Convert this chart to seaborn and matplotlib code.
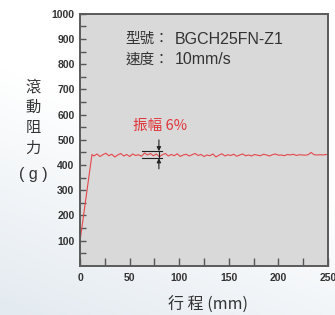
import matplotlib
matplotlib.use("Agg")
import matplotlib.pyplot as plt
import numpy as np
import pandas as pd
import seaborn as sns

# ---- data ----
stroke_mm = [0, 12, 14, 17, 20, 23, 26, 29, 32, 35, 38, 41, 44, 47, 50, 53, 56, 59, 62, 65,
             68, 71, 74, 77, 80, 83, 86, 89, 92, 95, 98, 101, 104, 107, 110, 113, 116, 119,
             122, 125, 128, 131, 134, 137, 140, 143, 146, 149, 152, 155, 158, 161, 164, 167,
             170, 173, 176, 179, 182, 185, 188, 191, 194, 197, 200, 203, 206, 209, 212, 215,
             218, 221, 224, 227, 230, 233, 236, 239, 242, 245, 248, 250]
resistance_g = [100, 442, 436, 444, 434, 441, 447, 437, 443, 432, 440, 446, 436, 442, 434, 444,
                438, 441, 435, 448, 440, 446, 437, 444, 433, 441, 446, 436, 442, 437, 445, 434,
                440, 443, 436, 441, 446, 438, 442, 434, 440, 437, 444, 432, 439, 445, 436, 441,
                438, 443, 435, 440, 444, 437, 440, 436, 442, 439, 437, 443, 440, 436, 441, 444,
                439, 440, 437, 442, 440, 443, 438, 441, 440, 439, 441, 450, 441, 440, 441, 440,
                442, 441]
x_ticks = [0, 50, 100, 150, 200, 250]
y_ticks = [100, 200, 300, 400, 500, 600, 700, 800, 900, 1000]
model_label = "型號："
model_value = "BGCH25FN-Z1"
speed_label = "速度："
speed_value = "10mm/s"
amp_text = "振幅 6%"
amp_x = 79.5
amp_hi = 455
amp_lo = 427

n = min(len(stroke_mm), len(resistance_g))
df = pd.DataFrame({"stroke": stroke_mm[:n], "res": resistance_g[:n]})

fig = plt.figure(figsize=(3.35, 3.15), dpi=100)
# subtle background gradient
bg = fig.add_axes([0, 0, 1, 1], zorder=-10)
gy, gx = np.mgrid[0:1:100j, 0:1:100j]
grad = np.clip((gy * 0.7 + (1 - gx) * 0.3) - 0.45, 0, 1) / 0.55
bg.imshow(grad, cmap=matplotlib.colors.LinearSegmentedColormap.from_list("g", ["#ffffff", "#e3eaf0"]),
          extent=[0, 1, 0, 1], aspect="auto", origin="upper")
bg.axis("off")

ax = fig.add_axes([0.239, 0.156, 0.74, 0.8])
ax.set_facecolor("#d9d9d9")
sns.lineplot(data=df, x="stroke", y="res", ax=ax, color="#e5474b", linewidth=0.8)

ax.set_xlim(0, 250)
ax.set_ylim(0, 1000)
ax.set_xticks(x_ticks)
ax.set_yticks(y_ticks)
ax.set_xticks(np.arange(0, 251, 25), minor=True)
ax.set_yticks(np.arange(50, 1000, 50), minor=True)
ax.set_xticklabels([str(v) for v in x_ticks], fontweight="bold", fontsize=7.5, color="#333333",
                   family="Liberation Sans")
ax.set_yticklabels([str(v) for v in y_ticks], fontweight="bold", fontsize=7.5, color="#333333",
                   family="Liberation Sans")
ax.tick_params(axis="x", which="both", direction="in", length=6, width=1, color="#555555", pad=5)
ax.tick_params(axis="y", which="both", direction="in", length=4.5, width=1, color="#555555", pad=4)
for s in ax.spines.values():
    s.set_color("#5a5a5a")
    s.set_linewidth(1.4)
ax.set_xlabel("")
ax.set_ylabel("")

ax.text(45.4, 900, model_label, fontsize=10.5, color="#333333", family=["Noto Sans CJK TC"],
        va="center", ha="left")
ax.text(95.8, 900, model_value, fontsize=11.5, color="#333333", family=["Liberation Sans"],
        va="center", ha="left")
ax.text(45.4, 820, speed_label, fontsize=10.5, color="#333333", family=["Noto Sans CJK TC"],
        va="center", ha="left")
ax.text(95.8, 820, speed_value, fontsize=11.5, color="#333333", family=["Liberation Sans"],
        va="center", ha="left")
ax.text(53, 555, amp_text, fontsize=10.5, color="#e0353a", family=["Noto Sans CJK TC", "DejaVu Sans"],
        va="center", ha="left")

# amplitude marker
ax.plot([62.5, 83], [amp_hi, amp_hi], color="#222222", lw=0.8)
ax.plot([62.5, 83], [amp_lo, amp_lo], color="#222222", lw=0.8)
ax.plot([amp_x, amp_x], [amp_lo, amp_hi], color="#222222", lw=0.8)
ax.annotate("", xy=(amp_x, amp_hi), xytext=(amp_x, 500),
            arrowprops=dict(arrowstyle="-|>", color="#222222", lw=0.8, mutation_scale=6,
                            shrinkA=0, shrinkB=0))
ax.annotate("", xy=(amp_x, amp_lo), xytext=(amp_x, 385),
            arrowprops=dict(arrowstyle="-|>", color="#222222", lw=0.8, mutation_scale=6,
                            shrinkA=0, shrinkB=0))

fig.text(0.098, 0.626, "滾\n動\n阻\n力", fontsize=11, color="#333333", family=["Noto Sans CJK TC"],
         ha="center", va="center", linespacing=1.25)
fig.text(0.098, 0.445, "( g )", fontsize=11.5, color="#333333", family=["Liberation Sans"],
         ha="center", va="center")
fig.text(0.62, 0.032, "行 程 (mm)", fontsize=11.5, color="#333333",
         family=["Noto Sans CJK TC", "DejaVu Sans"], ha="center", va="center")

fig.savefig("out.png", dpi=100)
